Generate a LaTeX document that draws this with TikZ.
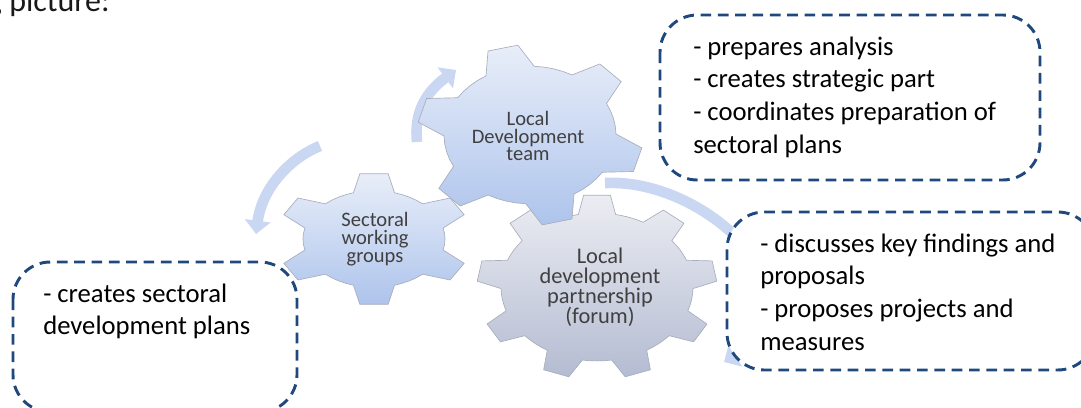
\documentclass[tikz,border=0pt]{standalone}
\usepackage{fontspec}
\setmainfont{Carlito}
\usetikzlibrary{arrows.meta}
\definecolor{boxblue}{HTML}{1F497D}
\definecolor{arrowblue}{HTML}{C9D7F2}
\definecolor{gAtop}{HTML}{E8EEF9}
\definecolor{gAbot}{HTML}{AEC4EC}
\definecolor{gBtop}{HTML}{ECEDF3}
\definecolor{gBbot}{HTML}{B4BCD2}
\definecolor{gearedge}{HTML}{A8AEBC}
\definecolor{geartxt}{HTML}{404040}
\newcommand{\drawgear}[9]{%
  \pgfmathsetmacro\gp{360/#4}%
  \pgfmathsetmacro\ght{#8*\gp}%
  \pgfmathsetmacro\ghb{0.28*\gp}%
  \pgfmathsetmacro\ggap{\gp-2*\ghb}%
  \pgfmathtruncatemacro\gN{#4-1}%
  \path[#9] ({#1+#7*cos(#5-\ghb)},{#2-#3*#7*sin(#5-\ghb)})
    \foreach \k [evaluate=\k as \c using #5+\k*\gp] in {0,...,\gN}{
      -- ({#1+#7*cos(\c-\ghb)},{#2-#3*#7*sin(\c-\ghb)})
      -- ({#1+#6*cos(\c-\ght)},{#2-#3*#6*sin(\c-\ght)})
      -- ({#1+#6*cos(\c+\ght)},{#2-#3*#6*sin(\c+\ght)})
      -- ({#1+#7*cos(\c+\ghb)},{#2-#3*#7*sin(\c+\ghb)})
      -- ({#1+#7*cos(\c+\ghb+0.25*\ggap)},{#2-#3*#7*sin(\c+\ghb+0.25*\ggap)})
      -- ({#1+#7*cos(\c+\ghb+0.5*\ggap)},{#2-#3*#7*sin(\c+\ghb+0.5*\ggap)})
      -- ({#1+#7*cos(\c+\ghb+0.75*\ggap)},{#2-#3*#7*sin(\c+\ghb+0.75*\ggap)})
    } -- cycle;
}
\begin{document}
\begin{tikzpicture}[x=0.75pt,y=-0.75pt,
  dashbox/.style={draw=boxblue, line width=2.2pt, dash pattern=on 8pt off 5pt,
    rounded corners=28pt, fill=white},
  boxtext/.style={anchor=base west, align=left, inner sep=0pt,
    font=\fontsize{20}{24.5}\selectfont},
  geartext/.style={align=center, inner sep=0pt, text=geartxt,
    font=\fontsize{15.4}{13.4}\selectfont},
  fatarrow/.style={draw=arrowblue, line width=8pt,
    -{Triangle[length=10pt,width=19pt]}},
  gearA/.style={top color=gAtop, bottom color=gAbot, draw=gearedge, line width=0.5pt},
  gearB/.style={top color=gBtop, bottom color=gBbot, draw=gearedge, line width=0.5pt}]
\useasboundingbox (0,0) rectangle (1081,407);

% cut-off caption text at the top
\node[anchor=base east, inner sep=0pt, text=black!90,
  font=\fontsize{24}{28}\selectfont] (cap) at (110,12) {g picture:};

% curved arrows
\coordinate (a1s) at (320,146);
\coordinate (a1e) at (256,234);
\coordinate (a2s) at (417,142);
\coordinate (a2e) at (456,70);
\coordinate (a3s) at (605,183);
\coordinate (a3e) at (724,362);
\draw[fatarrow] (a1s) .. controls (290,158) and (262,188) .. (a1e);
\draw[fatarrow] (a2s) .. controls (414,112) and (426,92) .. (a2e);
\draw[fatarrow] (a3s) .. controls (710,178) and (830,300) .. (a3e);

% gears
\drawgear{597}{287}{0.77}{9}{90}{120}{96}{0.16}{gearB}
\drawgear{374}{239}{0.68}{6}{90}{97}{71}{0.14}{gearA}
\drawgear{530}{135}{0.8}{6}{104}{113}{86}{0.13}{gearA}

\node[geartext] (ldt) at (528,136) {Local\\Development\\team};
\node[geartext] (swg) at (375,239) {Sectoral\\working\\groups};
\node[geartext, font=\fontsize{16.8}{15}\selectfont] (ldp) at (600,287)
  {Local\\development\\partnership\\(forum)};

% dashed boxes
\draw[dashbox] (660,15) rectangle (1040,180);
\draw[dashbox] (727,212) rectangle (1095,370);
\draw[dashbox] (13,262) rectangle (297,412);

% box texts (base anchor = baseline of the last line)
\node[boxtext] (t1) at (693,153) {- prepares analysis\\- creates strategic part\\- coordinates preparation of\\sectoral plans};
\node[boxtext] (t2) at (760,350) {- discusses key findings and\\proposals\\- proposes projects and\\measures};
\node[boxtext, font=\fontsize{20}{23.5}\selectfont] (t3) at (43,334) {- creates sectoral\\development plans};
\end{tikzpicture}
\end{document}
